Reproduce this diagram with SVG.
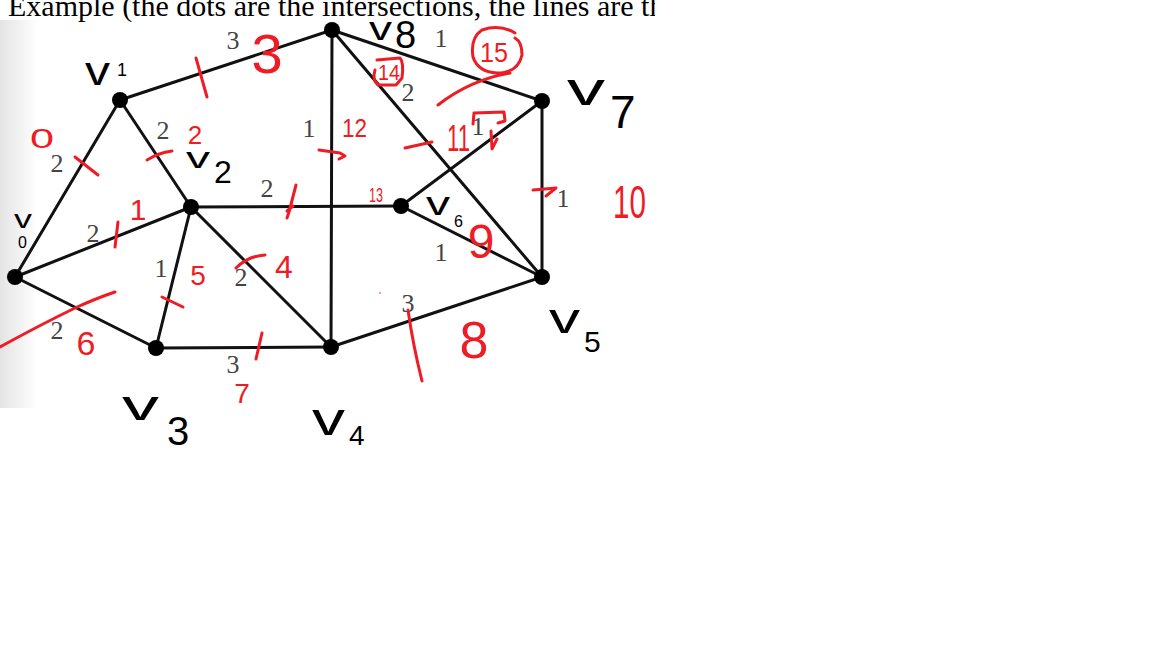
<svg xmlns="http://www.w3.org/2000/svg" width="1152" height="648" viewBox="0 0 1152 648">
<defs>
<linearGradient id="edgeShade" x1="0" y1="0" x2="1" y2="0">
<stop offset="0" stop-color="#e4e4e4"/>
<stop offset="1" stop-color="#ffffff"/>
</linearGradient>
<clipPath id="pageClip"><rect x="0" y="0" width="655" height="648"/></clipPath>
<style>
.edge{stroke:#111;stroke-width:3;fill:none;stroke-linecap:round}
.w{font-family:"Liberation Serif","Times New Roman",serif;font-size:26px;fill:#444;text-anchor:middle}
.dot{fill:#000}
.hv{font-family:"Liberation Sans",Arial,sans-serif;fill:#000}
.rn{font-family:"Liberation Sans",Arial,sans-serif;fill:#ee1c24}
.rs{stroke:#ee1c24;stroke-width:3;fill:none;stroke-linecap:round;stroke-linejoin:round}
</style>
</defs>
<rect x="0" y="0" width="1152" height="648" fill="#fff"/>
<rect x="0" y="20" width="38" height="388" fill="url(#edgeShade)"/>
<text x="8" y="16" clip-path="url(#pageClip)" font-family="Liberation Serif, Times New Roman, serif" font-size="30" fill="#000">Example (the dots are the intersections, the lines are the</text>

<g id="connectors">
<line class="edge" x1="15" y1="277" x2="120" y2="100"/>
<line class="edge" x1="15" y1="277" x2="191" y2="207"/>
<line class="edge" x1="15" y1="277" x2="156" y2="348"/>
<line class="edge" x1="120" y1="100" x2="191" y2="207"/>
<line class="edge" x1="120" y1="100" x2="332" y2="30"/>
<line class="edge" x1="191" y1="207" x2="401" y2="206"/>
<line class="edge" x1="191" y1="207" x2="156" y2="348"/>
<line class="edge" x1="191" y1="207" x2="331" y2="347"/>
<line class="edge" x1="156" y1="348" x2="331" y2="347"/>
<line class="edge" x1="331" y1="347" x2="332" y2="30"/>
<line class="edge" x1="331" y1="347" x2="542" y2="277"/>
<line class="edge" x1="332" y1="30" x2="542" y2="101"/>
<line class="edge" x1="332" y1="30" x2="542" y2="277"/>
<line class="edge" x1="401" y1="206" x2="542" y2="101"/>
<line class="edge" x1="401" y1="206" x2="542" y2="277"/>
<line class="edge" x1="542" y1="101" x2="542" y2="277"/>
<text class="w" x="233" y="49">3</text>
<text class="w" x="57" y="172">2</text>
<text class="w" x="163" y="139">2</text>
<text class="w" x="309" y="137">1</text>
<text class="w" x="267" y="197">2</text>
<text class="w" x="93" y="242">2</text>
<text class="w" x="161" y="277">1</text>
<text class="w" x="241" y="286">2</text>
<text class="w" x="57" y="339">2</text>
<text class="w" x="233" y="373">3</text>
<text class="w" x="408" y="312">3</text>
<text class="w" x="441" y="261">1</text>
<text class="w" x="441" y="47">1</text>
<text class="w" x="408" y="101">2</text>
<text class="w" x="478" y="135">1</text>
<text class="w" x="563" y="207">1</text>
</g>

<g id="v0"><circle class="dot" cx="15" cy="277" r="8"/>
<text class="hv" x="14" y="228" font-size="26" textLength="18" lengthAdjust="spacingAndGlyphs">v</text>
<text class="hv" x="18" y="248" font-size="16">0</text></g>
<g id="v1"><circle class="dot" cx="120" cy="100" r="8"/>
<text class="hv" x="85" y="85" font-size="40" textLength="25" lengthAdjust="spacingAndGlyphs">v</text>
<text class="hv" x="117" y="76" font-size="18">1</text></g>
<g id="v2"><circle class="dot" cx="191" cy="207" r="8"/>
<text class="hv" x="186" y="168" font-size="30" textLength="24" lengthAdjust="spacingAndGlyphs">v</text>
<text class="hv" x="214" y="183" font-size="32">2</text></g>
<g id="v3"><circle class="dot" cx="156" cy="348" r="8"/>
<text class="hv" x="122" y="420" font-size="42" textLength="37" lengthAdjust="spacingAndGlyphs">v</text>
<text class="hv" x="167" y="445" font-size="40">3</text></g>
<g id="v4"><circle class="dot" cx="331" cy="347" r="8"/>
<text class="hv" x="312" y="435" font-size="46" textLength="33" lengthAdjust="spacingAndGlyphs">v</text>
<text class="hv" x="349" y="445" font-size="28">4</text></g>
<g id="v5"><circle class="dot" cx="542" cy="277" r="8"/>
<text class="hv" x="549" y="333" font-size="42" textLength="31" lengthAdjust="spacingAndGlyphs">v</text>
<text class="hv" x="584" y="352" font-size="30">5</text></g>
<g id="v6"><circle class="dot" cx="401" cy="206" r="8"/>
<text class="hv" x="426" y="215" font-size="34" textLength="24" lengthAdjust="spacingAndGlyphs">v</text>
<text class="hv" x="454" y="227" font-size="16">6</text></g>
<g id="v7"><circle class="dot" cx="542" cy="101" r="8"/>
<text class="hv" x="567" y="105" font-size="46" textLength="38" lengthAdjust="spacingAndGlyphs">v</text>
<text class="hv" x="610" y="128" font-size="46">7</text></g>
<g id="v8"><circle class="dot" cx="332" cy="30" r="8"/>
<text class="hv" x="369" y="40" font-size="34" textLength="23" lengthAdjust="spacingAndGlyphs">v</text>
<text class="hv" x="395" y="48" font-size="38">8</text></g>

<g id="annotations">
<path class="rs" d="M75,157 L98,175"/>
<path class="rs" d="M147,160 Q158,153 172,151"/>
<path class="rs" d="M196,58 L207,97"/>
<path class="rs" d="M118,222 L115,247"/>
<path class="rs" d="M296,185 L289,212 L287,218 M287,211 L293,206"/>
<path class="rs" d="M319,150 L340,153 L345,156 L339,159"/>
<path class="rs" d="M405,148 L432,142"/>
<path class="rs" d="M438,105 Q470,80 510,73"/>
<path class="rs" d="M473,124 L474,113 L504,112 L505,121 L498,123 M491,131 L492,149 L497,139"/>
<path class="rs" d="M533,190 L556,188 L546,196"/>
<path class="rs" d="M408,310 Q413,345 422,381"/>
<path class="rs" d="M262,333 L256,359"/>
<path class="rs" d="M236,268 Q248,256 265,255"/>
<path class="rs" d="M162,297 L183,307"/>
<path class="rs" d="M0,347 Q40,325 75,308 Q97,298 115,292"/>
<path class="rs" d="M377,60 L400,58 Q404,62 402,78 L396,85 L378,85 Q372,80 375,70"/>
<path class="rs" d="M515,33 Q500,24 482,30 Q470,38 473,57 Q478,72 497,73 Q518,73 522,55 Q522,42 515,38"/>
<text class="rn" x="30" y="148" font-size="28" textLength="24" lengthAdjust="spacingAndGlyphs">0</text>
<text class="rn" x="138" y="220" font-size="30" text-anchor="middle">1</text>
<text class="rn" x="195" y="144" font-size="26" text-anchor="middle">2</text>
<text class="rn" x="267" y="73" font-size="56" text-anchor="middle">3</text>
<text class="rn" x="284" y="278" font-size="32" text-anchor="middle">4</text>
<text class="rn" x="198" y="285" font-size="28" text-anchor="middle">5</text>
<text class="rn" x="86" y="355" font-size="34" text-anchor="middle">6</text>
<text class="rn" x="242" y="403" font-size="28" text-anchor="middle">7</text>
<text class="rn" x="474" y="358" font-size="52" text-anchor="middle">8</text>
<text class="rn" x="481" y="258" font-size="48" text-anchor="middle">9</text>
<text class="rn" x="613" y="218" font-size="46" textLength="33" lengthAdjust="spacingAndGlyphs">10</text>
<text class="rn" x="447" y="151" font-size="36" textLength="23" lengthAdjust="spacingAndGlyphs">11</text>
<text class="rn" x="342" y="137" font-size="26" textLength="25" lengthAdjust="spacingAndGlyphs">12</text>
<text class="rn" x="369" y="202" font-size="20" textLength="14" lengthAdjust="spacingAndGlyphs">13</text>
<text class="rn" x="378" y="80" font-size="22" textLength="22" lengthAdjust="spacingAndGlyphs">14</text>
<text class="rn" x="480" y="62" font-size="28" textLength="28" lengthAdjust="spacingAndGlyphs">15</text>
<circle cx="380" cy="293" r="0.8" fill="#ee1c24"/>
</g>
</svg>
